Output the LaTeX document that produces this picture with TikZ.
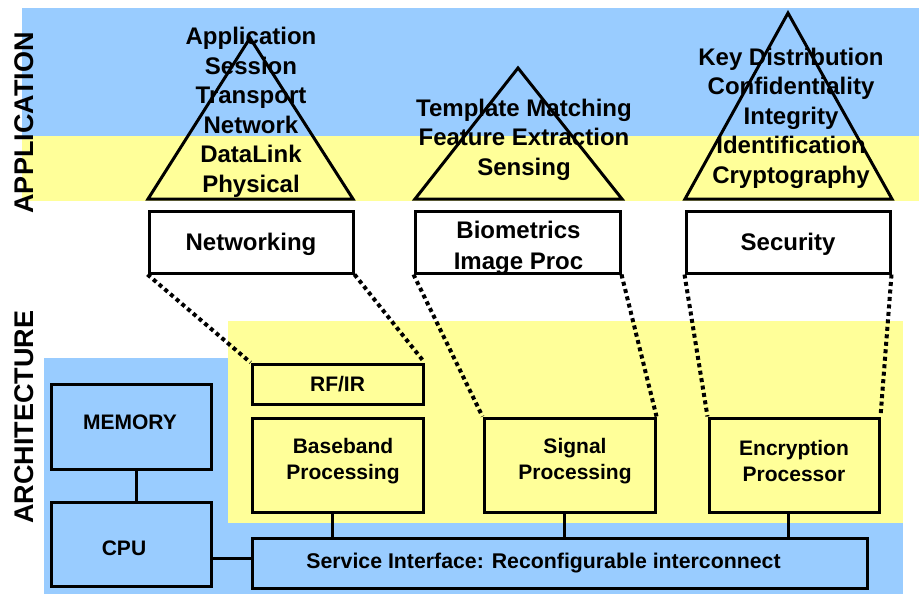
\documentclass[tikz,border=0pt]{standalone}
\usepackage{fontspec}
\setmainfont{Liberation Sans}
\begin{document}
\begin{tikzpicture}[x=1pt,y=-1pt,
  bigtxt/.style={font=\fontsize{24}{29.5}\selectfont\bfseries, align=center, inner sep=0pt},
  smalltxt/.style={font=\fontsize{21}{26}\selectfont\bfseries, align=center, inner sep=0pt},
  sidetxt/.style={font=\fontsize{27}{30}\selectfont\bfseries, rotate=90, inner sep=0pt},
  whitebox/.style={draw=black, line width=3pt, fill=white, bigtxt},
  ybox/.style={draw=black, line width=3pt, fill=yellowfill, smalltxt},
  bbox/.style={draw=black, line width=3pt, fill=bluefill, smalltxt},
  tri/.style={draw=black, line width=3pt, line join=miter},
  wire/.style={draw=black, line width=3pt},
  dotline/.style={draw=black, line width=4pt, dash pattern=on 4pt off 3.5pt}
]
\definecolor{bluefill}{RGB}{153,204,255}
\definecolor{yellowfill}{RGB}{255,255,153}
\useasboundingbox (0,0) rectangle (919,594);

% background bands
\fill[bluefill] (22,8) rectangle (919,136);
\fill[yellowfill] (22,136) rectangle (919,201);
\fill[bluefill] (44,358) rectangle (903,594);
\fill[yellowfill] (228,321) rectangle (903,523);

% side titles
\node[sidetxt] (lblapp) at (24,123) {APPLICATION};
\node[sidetxt] (lblarch) at (24,417) {ARCHITECTURE};

% protocol stacks
\node[bigtxt] (stk1) at (251,112.5) {Application\\Session\\Transport\\Network\\DataLink\\Physical};
\node[bigtxt] (stk2) at (524,139.5) {Template Matching\\Feature Extraction\\Sensing};
\node[bigtxt] (stk3) at (791,118) {Key Distribution\\Confidentiality\\Integrity\\Identification\\Cryptography};

% triangles
\coordinate (t1a) at (250,38);  \coordinate (t1l) at (148,199); \coordinate (t1r) at (353,199);
\coordinate (t2a) at (518,68);  \coordinate (t2l) at (415,199); \coordinate (t2r) at (622,199);
\coordinate (t3a) at (788,13);  \coordinate (t3l) at (685,199); \coordinate (t3r) at (892,199);
\draw[tri] (t1a) -- (t1l) -- (t1r) -- cycle;
\draw[tri] (t2a) -- (t2l) -- (t2r) -- cycle;
\draw[tri] (t3a) -- (t3l) -- (t3r) -- cycle;

% application boxes
\node[whitebox, minimum width=204pt, minimum height=62pt] (net) at (251,242) {};
\node[bigtxt] (nettxt) at ([yshift=-2.5pt]net.center) {Networking};
\node[whitebox, minimum width=205pt, minimum height=62pt] (bio) at (517.5,242) {};
\node[bigtxt, font=\fontsize{24}{31}\selectfont\bfseries] (biotxt) at ([xshift=1pt,yshift=-6pt]bio.center) {Biometrics\\Image Proc};
\node[whitebox, minimum width=204pt, minimum height=62pt] (sec) at (788,242) {};
\node[bigtxt] (sectxt) at ([yshift=-2.5pt]sec.center) {Security};

% architecture blocks
\node[bbox, minimum width=160pt, minimum height=85pt] (mem) at (131,426.5) {};
\node[smalltxt] (memtxt) at (130,422) {MEMORY};
\node[bbox, minimum width=160pt, minimum height=84pt] (cpu) at (131,544) {};
\node[smalltxt] (cputxt) at (124,548) {CPU};
\node[ybox, minimum width=171pt, minimum height=40pt] (rf) at (337.5,384) {RF/IR};
\node[ybox, minimum width=171pt, minimum height=94pt] (base) at (337.5,465) {};
\node[smalltxt] (basetxt) at (343,461) {Baseband\\Processing};
\node[ybox, minimum width=171pt, minimum height=94pt] (sig) at (569.5,465) {};
\node[smalltxt] (sigtxt) at (575,461) {Signal\\Processing};
\node[ybox, minimum width=170pt, minimum height=94pt] (enc) at (794,465) {};
\node[smalltxt] (enctxt) at (794,461) {Encryption\\Processor};
\node[bbox, minimum width=615pt, minimum height=50pt] (svc) at (559.5,563) {};
\node[smalltxt, font=\fontsize{21.3}{25}\selectfont\bfseries] (svctxt) at (543.5,563) {Service Interface: Reconfigurable interconnect};

% wiring
\draw[wire] ([xshift=5pt]mem.south) -- ([xshift=5pt]cpu.north);
\draw[wire] ([yshift=5pt]svc.west) -- ([yshift=5pt]svc.west -| cpu.east);
\draw[wire] ([xshift=-5pt]base.south) -- ([xshift=-5pt]base.south |- svc.north);
\draw[wire] ([xshift=-5.5pt]sig.south) -- ([xshift=-5.5pt]sig.south |- svc.north);
\draw[wire] ([xshift=-6pt]enc.south) -- ([xshift=-6pt]enc.south |- svc.north);

% mappings from application to hardware
\draw[dotline] (net.south west) -- (rf.north west);
\draw[dotline] (net.south east) -- (rf.north east);
\draw[dotline] (bio.south west) -- (sig.north west);
\draw[dotline] (bio.south east) -- (sig.north east);
\draw[dotline] (sec.south west) -- (enc.north west);
\draw[dotline] (sec.south east) -- (enc.north east);
\end{tikzpicture}
\end{document}
